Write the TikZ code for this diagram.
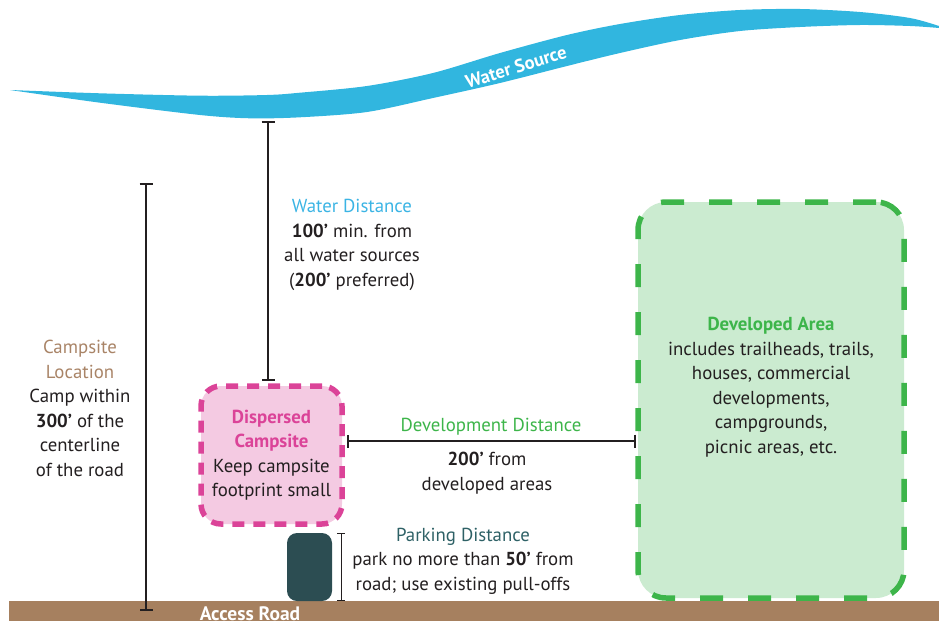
\documentclass[tikz,border=0pt]{standalone}
\usepackage{fontspec}
\setmainfont{PT Sans}
\usetikzlibrary{arrows.meta}
\definecolor{water}{HTML}{31B6DF}
\definecolor{waterTxt}{HTML}{3BB4E4}
\definecolor{pinkFill}{HTML}{F4CAE2}
\definecolor{pinkLine}{HTML}{DB4398}
\definecolor{greenFill}{HTML}{CBEBD0}
\definecolor{greenLine}{HTML}{3DB54A}
\definecolor{roadBrown}{HTML}{A6805F}
\definecolor{brownTxt}{HTML}{A98467}
\definecolor{carTeal}{HTML}{2C4D52}
\definecolor{tealTxt}{HTML}{2E6166}
\definecolor{ink}{HTML}{231F20}
\begin{document}
\begin{tikzpicture}[x=1pt,y=-1pt,
  font=\fontsize{18.8}{24.5}\selectfont,
  txt/.style={text=ink, align=center, inner sep=0pt},
  dimline/.style={draw=ink, line width=1.2pt,
    {Bar[width=13pt,line width=2.4pt]}-{Bar[width=13pt,line width=2.4pt]}},
  smalldim/.style={draw=ink, line width=1pt,
    {Bar[width=8pt,line width=1pt]}-{Bar[width=8pt,line width=1pt]}},
  areabox/.style={rounded corners=#1, inner sep=0pt},
]
\useasboundingbox (0,0) rectangle (939,621);

% water source ribbon
\fill[water] plot[smooth, tension=0.5] coordinates {(10,90) (100,93.3) (200,95.7) (267,95) (300,92.7) (367,86) (433,73) (500,53) (567,35) (620,24) (680,15) (740,10) (800,9) (860,12) (910,18) (939,26)}
  -- plot[smooth, tension=0.5] coordinates {(939,28) (910,26) (860,25) (800,27) (740,31) (680,40) (620,53) (567,66) (500,83) (433,98) (367,112) (300,117.3) (250,118.3) (200,115) (100,102.7) (10,90)} -- cycle;
\node[text=white, font=\fontsize{18.5}{20}\selectfont\bfseries, rotate=17, inner sep=0pt] (wsrc) at (516,67) {Water Source};

% road
\node[fill=roadBrown, minimum width=930, minimum height=20, anchor=north west, inner sep=0pt] (road) at (9,601) {};
\node[text=white, font=\fontsize{19.5}{22}\selectfont\bfseries, anchor=base, inner sep=0pt] (roadlbl) at (250,620) {Access Road};

% dispersed campsite
\node[areabox=20, fill=pinkFill, draw=pinkLine, line width=5.5pt, dash pattern=on 12pt off 9pt,
  minimum width=141, minimum height=138, txt] (disp) at (271.5,455)
  {{\color{pinkLine}\bfseries Dispersed}\\{\color{pinkLine}\bfseries Campsite}\\Keep campsite\\footprint small};

% developed area
\node[areabox=28, fill=greenFill, draw=greenLine, line width=5.5pt, dash pattern=on 23pt off 25pt,
  minimum width=266, minimum height=396] (dev) at (771,400) {};
\node[txt] (devtxt) at (771,387)
  {{\color{greenLine}\bfseries Developed Area}\\includes trailheads, trails,\\houses, commercial\\developments,\\campgrounds,\\picnic areas, etc.};

% parking
\node[fill=carTeal, rounded corners=10, minimum width=45, minimum height=68, inner sep=0pt] (car) at (309.5,567) {};

% water distance
\coordinate (wtop) at (268,121);
\coordinate (wbot) at (268,381);
\draw[dimline] (wtop) -- (wbot);
\node[txt] (wdtxt) at (352,245)
  {{\color{waterTxt}Water Distance}\\\textbf{100’} min. from\\all water sources\\(\textbf{200’} preferred)};

% campsite location
\coordinate (ctop) at (146,183);
\coordinate (cbot) at (146,611);
\draw[dimline] (ctop) -- (cbot);
\node[txt] (cltxt) at (80,408.5)
  {{\color{brownTxt}Campsite}\\{\color{brownTxt}Location}\\Camp within\\\textbf{300’} of the\\centerline\\of the road};

% development distance
\coordinate (dleft) at (347,441);
\coordinate (dright) at (636,441);
\draw[dimline] (dleft) -- (dright);
\node[txt, text=greenLine] (ddlbl) at (491,427) {Development Distance};
\node[txt] (ddtxt) at (487,473) {\textbf{200’} from\\developed areas};

% parking distance
\coordinate (ptop) at (341,533);
\coordinate (pbot) at (341,601);
\draw[smalldim] (ptop) -- (pbot);
\node[txt] (pdtxt) at (463,561)
  {{\color{tealTxt}Parking Distance}\\park no more than \textbf{50’} from\\road; use existing pull-offs};
\end{tikzpicture}
\end{document}
